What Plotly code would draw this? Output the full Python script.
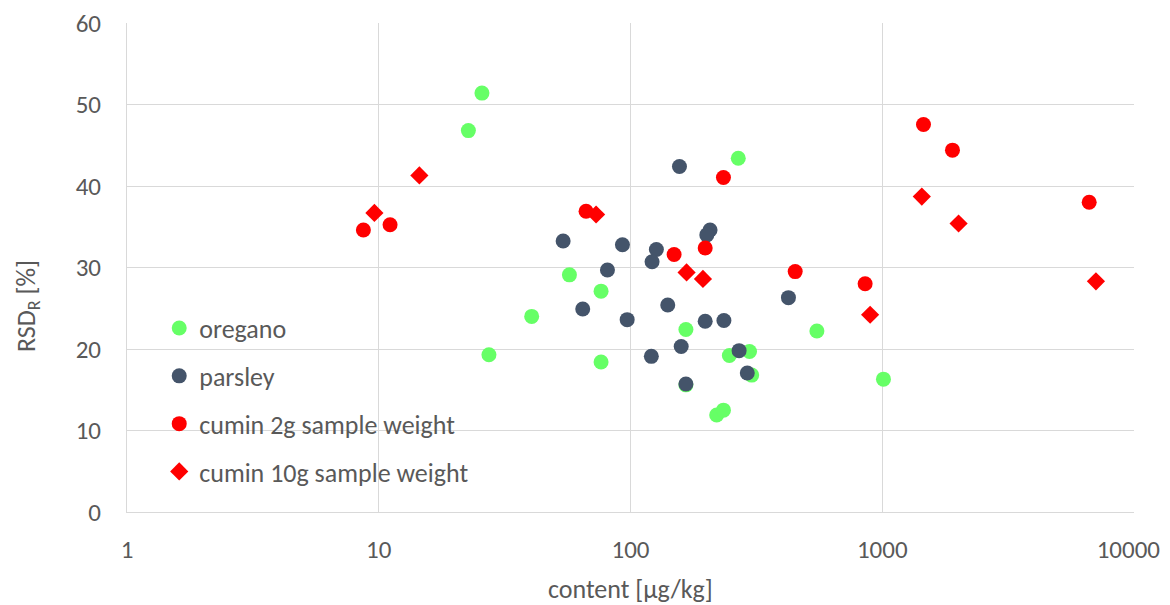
import plotly.graph_objects as go

# oregano
oregano_x = [25.7, 22.7, 57.2, 76.4, 40.5, 76.4, 27.4, 166, 268, 247, 297, 303, 220, 234, 550, 1011, 166]
oregano_y = [51.4, 46.8, 29.1, 27.1, 24.0, 18.4, 19.3, 22.4, 43.4, 19.2, 19.7, 16.8, 11.9, 12.5, 22.2, 16.3, 15.6]
# parsley
parsley_x = [156.5, 54.0, 92.9, 126.7, 121.8, 81.0, 64.6, 140.6, 97.0, 121, 159, 166, 207, 201, 198, 235, 270, 291, 424]
parsley_y = [42.4, 33.25, 32.8, 32.2, 30.7, 29.7, 24.9, 25.4, 23.6, 19.1, 20.3, 15.7, 34.6, 34.0, 23.4, 23.5, 19.8, 17.05, 26.3]
# cumin 2 g
cumin2_x = [8.69, 11.09, 66.6, 149, 234, 198, 451, 855, 1458, 1901, 6637]
cumin2_y = [34.6, 35.25, 36.9, 31.6, 41.05, 32.4, 29.5, 28.0, 47.55, 44.4, 38.0]
# cumin 10 g
cumin10_x = [14.5, 9.61, 73.0, 167, 194, 895, 1436, 2010, 7060]
cumin10_y = [41.3, 36.7, 36.5, 29.4, 28.6, 24.2, 38.7, 35.4, 28.3]

x_ticks = [1, 10, 100, 1000, 10000]
x_tick_text = ["1", "10", "100", "1000", "10000\u00a0\u00a0"]
y_ticks = [0, 10, 20, 30, 40, 50, 60]

FONT = "Carlito, Calibri, 'Open Sans', sans-serif"
TXT = "#595959"
GRID = "#D9D9D9"

fig = go.Figure()
series = [
    ("oregano", oregano_x, oregano_y, "#66FF66", "circle", 15),
    ("parsley", parsley_x, parsley_y, "#44546A", "circle", 15),
    ("cumin 2g sample weight", cumin2_x, cumin2_y, "#FF0000", "circle", 15),
    ("cumin 10g sample weight", cumin10_x, cumin10_y, "#FF0000", "diamond", 14),
]
for i, (name, xs, ys, col, sym, sz) in enumerate(series):
    fig.add_trace(go.Scatter(
        x=xs, y=ys, mode="markers", name=name, legendgroup=f"g{i}",
        marker=dict(color=col, symbol=sym, size=sz, line=dict(width=0)),
    ))

fig.update_layout(
    width=1162, height=597,
    paper_bgcolor="white", plot_bgcolor="white",
    margin=dict(l=119, r=36, t=15, b=93, autoexpand=False),
    font=dict(family=FONT, color=TXT, size=26),
    showlegend=True,
    legend=dict(
        x=0.032, y=0.424, xanchor="left", yanchor="top",
        bgcolor="rgba(0,0,0,0)", font=dict(size=26, color=TXT),
        traceorder="grouped", tracegroupgap=11, itemsizing="trace",
        itemwidth=30,
    ),
    xaxis=dict(
        type="log", range=[0, 4], tickvals=x_ticks, ticktext=x_tick_text,
        showgrid=True, gridcolor=GRID, gridwidth=1,
        showline=True, linecolor=GRID, linewidth=1, mirror=False,
        zeroline=False, ticks="", ticklen=0, ticklabelstandoff=15,
        tickfont=dict(size=25, color=TXT), automargin=False,
        ticklabeloverflow="allow",
    ),
    yaxis=dict(
        range=[0, 60], tickvals=y_ticks,
        showgrid=True, gridcolor=GRID, gridwidth=1,
        showline=True, linecolor=GRID, linewidth=1,
        zeroline=False, ticks="", ticklen=0, ticklabelstandoff=20,
        tickfont=dict(size=25, color=TXT), automargin=False,
        ticklabeloverflow="allow",
    ),
    annotations=[
        dict(text="content [µg/kg]", xref="paper", yref="paper", x=0.5, y=-0.157,
             xanchor="center", yanchor="middle", showarrow=False,
             font=dict(size=26, color=TXT)),
        dict(text="RSD<sub>R</sub> [%]", xref="paper", yref="paper", x=-0.0995, y=0.421,
             xanchor="center", yanchor="middle", showarrow=False, textangle=-90,
             font=dict(size=26, color=TXT)),
    ],
)

fig.write_html("out.html")
